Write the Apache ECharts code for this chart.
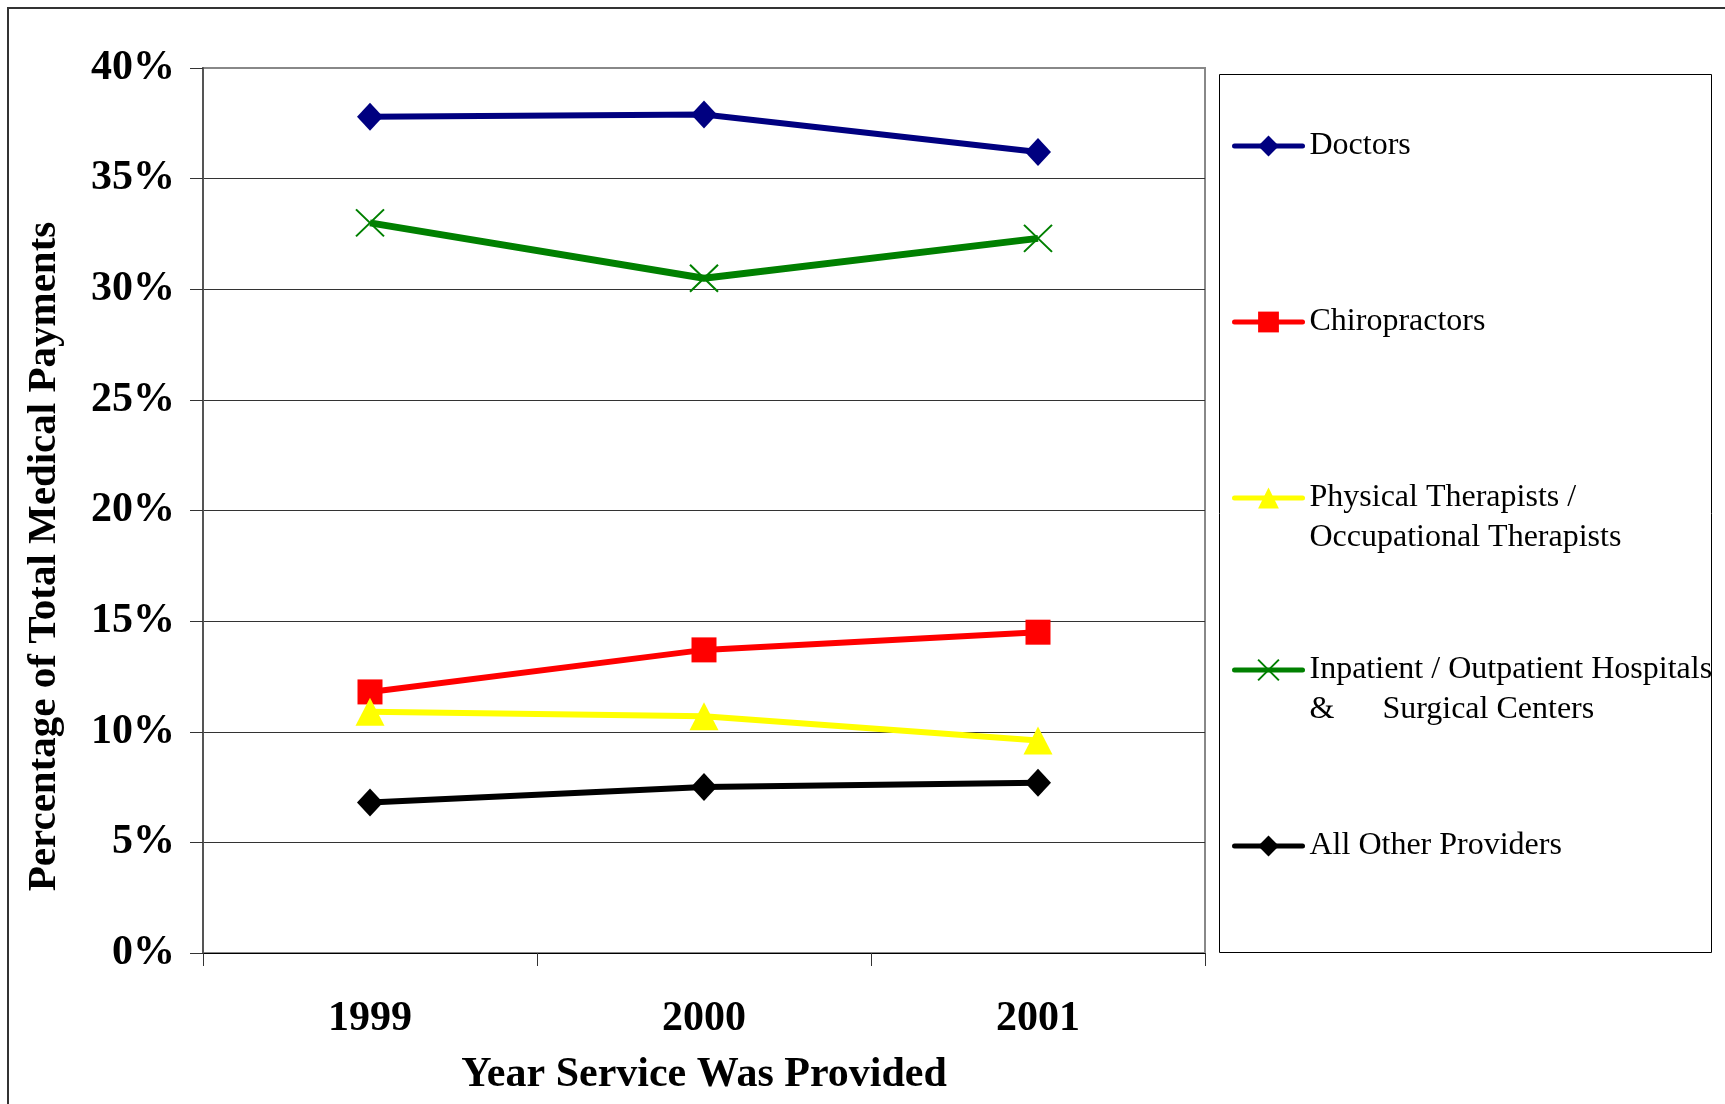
<!DOCTYPE html>
<html>
<head>
<meta charset="utf-8">
<script src="https://cdn.jsdelivr.net/npm/echarts@6/dist/echarts.min.js"></script>
<style>
html,body{margin:0;padding:0;background:#fff;}
#main{width:1725px;height:1104px;}
</style>
</head>
<body>
<div id="main"></div>
<script>
const years = ['1999', '2000', '2001'];
const doctors = [37.8, 37.9, 36.2];
const chiropractors = [11.8, 13.7, 14.5];
const physicalTherapists = [10.9, 10.7, 9.6];
const hospitals = [33.0, 30.5, 32.3];
const allOther = [6.8, 7.5, 7.7];
const yTicks = [0, 5, 10, 15, 20, 25, 30, 35, 40];

const names = [
  'Doctors',
  'Chiropractors',
  'Physical Therapists / Occupational Therapists',
  'Inpatient / Outpatient Hospitals & Surgical Centers',
  'All Other Providers'
];
const legendText = {
  'Doctors': 'Doctors',
  'Chiropractors': 'Chiropractors',
  'Physical Therapists / Occupational Therapists': '\nPhysical Therapists /\nOccupational Therapists',
  'Inpatient / Outpatient Hospitals & Surgical Centers': '\nInpatient / Outpatient Hospitals\n&      Surgical Centers',
  'All Other Providers': 'All Other Providers'
};
const legendTops = [126, 302, 438, 610, 826];

const serif = '"Liberation Serif", "Times New Roman", serif';
const chart = echarts.init(document.getElementById('main'));

function mkLegend(i) {
  return {
    data: [names[i]],
    left: 1232,
    top: legendTops[i],
    orient: 'vertical',
    padding: 0,
    itemWidth: 68,
    itemHeight: 26,
    itemGap: 0,
    selectedMode: false,
    lineStyle: { width: 5, cap: 'round' },
    formatter: function (n) { return legendText[n]; },
    textStyle: { fontFamily: serif, fontSize: 32, color: '#000', lineHeight: 40, padding: [0, 0, 0, 2] }
  };
}

function mkSeries(name, data, color, symbol, size, width, extra) {
  const s = {
    name: name,
    type: 'line',
    data: data,
    symbol: symbol,
    symbolSize: size,
    showSymbol: true,
    lineStyle: { color: color, width: width },
    itemStyle: { color: color },
    emphasis: { disabled: true },
    animation: false
  };
  return Object.assign(s, extra || {});
}

const gridColors = yTicks.map((v, i) => i === yTicks.length - 1 ? '#888' : '#333');

chart.setOption({
  backgroundColor: '#fff',
  animation: false,
  graphic: [{
    type: 'rect',
    shape: { x: 8, y: 8, width: 1760, height: 1200 },
    style: { fill: 'none', stroke: '#333', lineWidth: 2 },
    silent: true, z: -10
  }, {
    type: 'rect',
    shape: { x: 1219.5, y: 74.5, width: 492, height: 878 },
    style: { fill: 'none', stroke: '#000', lineWidth: 1 },
    silent: true, z: -5
  }],
  grid: {
    left: 203, top: 68, right: 520, bottom: 151,
    show: true, borderColor: '#888', borderWidth: 2, backgroundColor: 'transparent'
  },
  legend: [0, 1, 2, 3, 4].map(mkLegend),
  xAxis: {
    type: 'category',
    data: years,
    boundaryGap: true,
    axisLine: { show: true, lineStyle: { color: '#000', width: 1 } },
    axisTick: { show: true, inside: false, length: 13, lineStyle: { color: '#333', width: 1 } },
    axisLabel: { margin: 45, fontFamily: serif, fontWeight: 'bold', fontSize: 42, color: '#000' },
    name: 'Year Service Was Provided',
    nameLocation: 'middle',
    nameGap: 101,
    nameTextStyle: { fontFamily: serif, fontWeight: 'bold', fontSize: 42, color: '#000' },
    splitLine: { show: false }
  },
  yAxis: {
    type: 'value',
    min: 0, max: 40, interval: 5,
    axisLine: { show: true, lineStyle: { color: '#555', width: 2 } },
    axisTick: { show: true, inside: false, length: 13, lineStyle: { color: '#333', width: 1 } },
    axisLabel: { margin: 28, fontFamily: serif, fontWeight: 'bold', fontSize: 42, color: '#000', formatter: '{value}%', padding: [12, 0, 0, 0] },
    splitLine: { show: true, lineStyle: { color: gridColors, width: 1 } },
    name: 'Percentage of Total Medical Payments',
    nameLocation: 'middle',
    nameRotate: 90,
    nameGap: 138,
    nameTextStyle: { fontFamily: serif, fontWeight: 'bold', fontSize: 41, color: '#000', padding: [0, 92, 0, 0] }
  },
  series: [
    mkSeries(names[0], doctors, '#000080', 'diamond', [26, 28], 6),
    mkSeries(names[1], chiropractors, '#ff0000', 'rect', [25, 25], 6),
    mkSeries(names[2], physicalTherapists, '#ffff00', 'triangle', [29, 28], 6),
    mkSeries(names[3], hospitals, '#008000', 'path://M0,0L10,10M10,0L0,10', [28, 27], 7, {
      itemStyle: { color: 'rgba(0,0,0,0)', borderColor: '#008000', borderWidth: 2 }
    }),
    mkSeries(names[4], allOther, '#000000', 'diamond', [26, 28], 6)
  ]
});
</script>
</body>
</html>
